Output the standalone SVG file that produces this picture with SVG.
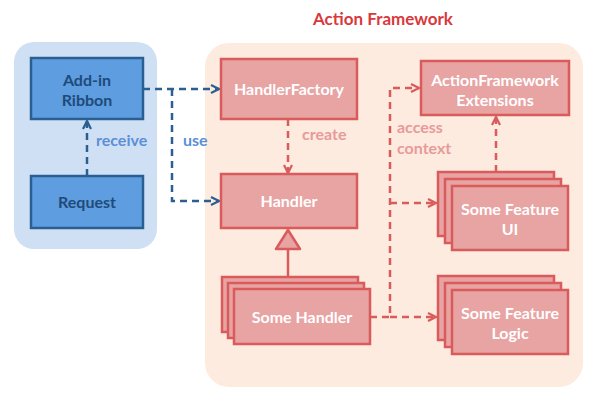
<svg xmlns="http://www.w3.org/2000/svg" width="596" height="402" viewBox="0 0 596 402">
<defs>
<style>
.t{font-family:Lato,"Open Sans","Liberation Sans",sans-serif;font-weight:bold;font-size:16px;text-anchor:middle}
.bn{fill:#5e9ddf;stroke:#2b5f92;stroke-width:2.5}
.bt{fill:#1f4b7a}
.rn{fill:#e8a3a3;stroke:#d95b5b;stroke-width:2.5}
.rt{fill:#ffffff}
.bc{fill:none;stroke:#2b5f92;stroke-width:2.5;stroke-dasharray:7,5}
.rc{fill:none;stroke:#d95b5b;stroke-width:2.5;stroke-dasharray:7,5}
.bl{fill:#5b8fd8}
.rl{fill:#e89a9a}
</style>
<marker id="ab" viewBox="0 0 10 10" refX="9" refY="5" markerWidth="10" markerHeight="10" markerUnits="userSpaceOnUse" orient="auto">
<path d="M1,1 L9,5 L1,9" fill="none" stroke="#2b5f92" stroke-width="2.2"/>
</marker>
<marker id="ar" viewBox="0 0 10 10" refX="9" refY="5" markerWidth="10" markerHeight="10" markerUnits="userSpaceOnUse" orient="auto">
<path d="M1,1 L9,5 L1,9" fill="none" stroke="#d95b5b" stroke-width="2.2"/>
</marker>
</defs>
<rect x="0" y="0" width="596" height="402" fill="#ffffff"/>
<g id="containers">
<rect x="14" y="42" width="143" height="207" rx="20" fill="#cfe0f4"/>
<rect x="205" y="43" width="378" height="344" rx="24" fill="#fdebdf"/>
<text x="383" y="25" class="t" style="font-size:17px" fill="#d8393c">Action Framework</text>
</g>
<g id="connectors">
<path class="bc" d="M87,176 V121" marker-end="url(#ab)"/>
<path class="bc" d="M143,89 H219" marker-end="url(#ab)"/>
<path class="bc" d="M172,89 V201 H219" marker-end="url(#ab)"/>
<path class="rc" d="M288,119 V173" marker-end="url(#ar)"/>
<path d="M288,278 V249" stroke="#d95b5b" stroke-width="2.5" fill="none"/>
<path d="M288,230 L300,249 L276,249 Z" fill="#e8a3a3" stroke="#d95b5b" stroke-width="2.5" stroke-linejoin="round"/>
<path class="rc" d="M370,317 H390 V88 H419" marker-end="url(#ar)"/>
<path class="rc" d="M390,203 H436" marker-end="url(#ar)"/>
<path class="rc" d="M390,317 H436" marker-end="url(#ar)"/>
<path class="rc" d="M496,172 V117" marker-end="url(#ar)"/>
<text x="96" y="146" class="t bl" style="text-anchor:start">receive</text>
<text x="183" y="146" class="t bl" style="text-anchor:start">use</text>
<text x="302" y="140" class="t rl" style="text-anchor:start">create</text>
<text x="397" y="133" class="t rl" style="text-anchor:start">access</text>
<text x="397" y="154" class="t rl" style="text-anchor:start">context</text>
</g>
<g id="addin-ribbon">
<rect class="bn" x="31" y="58" width="112" height="61"/>
<text class="t bt" x="87" y="86">Add-in</text>
<text class="t bt" x="87" y="106">Ribbon</text>
</g>
<g id="request">
<rect class="bn" x="31" y="176" width="112" height="52"/>
<text class="t bt" x="87" y="208">Request</text>
</g>
<g id="handler-factory">
<rect class="rn" x="221" y="59" width="136" height="60"/>
<text class="t rt" x="289" y="95">HandlerFactory</text>
</g>
<g id="handler">
<rect class="rn" x="221" y="174" width="136" height="54"/>
<text class="t rt" x="289" y="207">Handler</text>
</g>
<g id="some-handler">
<rect class="rn" x="222" y="277" width="136" height="55"/>
<rect class="rn" x="228" y="283" width="136" height="55"/>
<rect class="rn" x="234" y="289" width="136" height="55"/>
<text class="t rt" x="302" y="323">Some Handler</text>
</g>
<g id="af-extensions">
<rect class="rn" x="421" y="61" width="148" height="54"/>
<text class="t rt" x="495" y="86">ActionFramework</text>
<text class="t rt" x="495" y="106">Extensions</text>
</g>
<g id="some-feature-ui">
<rect class="rn" x="438" y="172" width="116" height="64"/>
<rect class="rn" x="445" y="179" width="116" height="64"/>
<rect class="rn" x="452" y="186" width="116" height="64"/>
<text class="t rt" x="510" y="215">Some Feature</text>
<text class="t rt" x="510" y="235">UI</text>
</g>
<g id="some-feature-logic">
<rect class="rn" x="438" y="276" width="116" height="64"/>
<rect class="rn" x="445" y="283" width="116" height="64"/>
<rect class="rn" x="452" y="290" width="116" height="64"/>
<text class="t rt" x="510" y="319">Some Feature</text>
<text class="t rt" x="510" y="339">Logic</text>
</g>
</svg>
